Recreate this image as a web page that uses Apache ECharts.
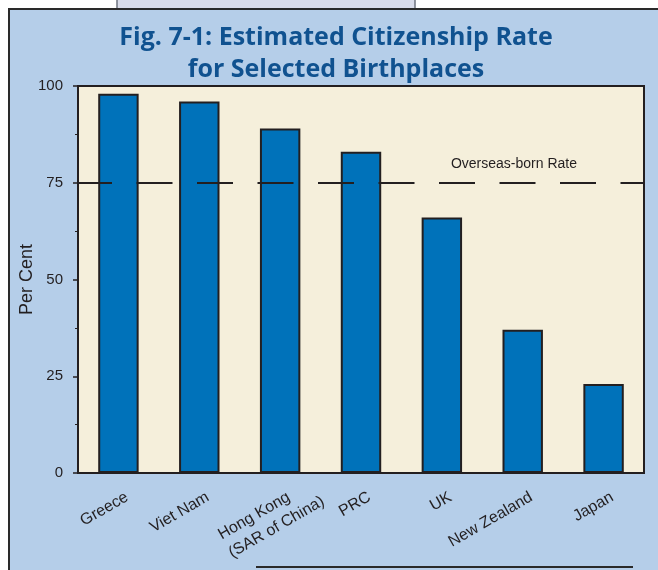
<!DOCTYPE html>
<html><head><meta charset="utf-8">
<script src="https://cdn.jsdelivr.net/npm/echarts@6/dist/echarts.min.js"></script>
<style>html,body{margin:0;padding:0;background:#fff}#c{width:658px;height:570px}</style>
</head><body><div id="c"></div>
<script>
var categories = ['Greece', 'Viet Nam', 'Hong Kong\n(SAR of China)', 'PRC', 'UK', 'New Zealand', 'Japan'];
var rates = [98, 96, 89, 83, 66, 37, 23];
var overseasRate = 75;
var yTicks = [0, 25, 50, 75, 100];

var labelFont = {fontSize: 15, color: '#231f20', fontFamily: 'Liberation Sans'};
var xFont = {fontSize: 16, color: '#231f20', fontFamily: 'Liberation Sans'};
var xData = categories.map(function (c) {
  return c.indexOf('\n') < 0 ? c : {value: c, textStyle: {padding: [21, -10, 0, 0]}};
});
var chart = echarts.init(document.getElementById('c'), null, {renderer: 'canvas'});
chart.setOption({
  backgroundColor: '#ffffff',
  animation: false,
  graphic: [
    {type: 'rect', z: -10, shape: {x: 117, y: -2, width: 298, height: 11}, style: {fill: '#d9dcea', stroke: '#6f7480', lineWidth: 1.5}},
    {type: 'rect', z: -10, shape: {x: 9, y: 9, width: 660, height: 570}, style: {fill: '#b5cee9', stroke: '#2a2a2a', lineWidth: 2}},
    {type: 'line', z: -5, shape: {x1: 256, y1: 567, x2: 633, y2: 567}, style: {stroke: '#2a2a2a', lineWidth: 2}}
  ],
  title: {
    text: 'Fig. 7-1: Estimated Citizenship Rate\nfor Selected Birthplaces',
    left: 331, top: 17, textAlign: 'center',
    textStyle: {fontFamily: 'Open Sans', fontWeight: 'bold', fontSize: 25, color: '#105290', lineHeight: 32}
  },
  grid: {left: 78, right: 14, top: 86, bottom: 97, show: true, backgroundColor: '#f5efdb', borderColor: '#231f20', borderWidth: 2},
  xAxis: {
    type: 'category', data: xData,
    axisLine: {lineStyle: {color: '#231f20', width: 2}},
    axisTick: {show: false},
    axisLabel: Object.assign({
      rotate: 30, margin: 28, interval: 0, lineHeight: 21, padding: [0, -10, 0, 0],
      formatter: function (v) {
        if (v.indexOf('\n') < 0) return v;
        return v.split('\n').map(function (s) { return '{l|' + s + '}'; }).join('\n');
      },
      rich: {l: Object.assign({width: 80, align: 'left', lineHeight: 21}, xFont)}
    }, xFont)
  },
  yAxis: {
    type: 'value', min: 0, max: 100, interval: 25,
    name: 'Per Cent', nameLocation: 'middle', nameGap: 42, nameMoveOverlap: false,
    nameTextStyle: {fontSize: 18, color: '#231f20', fontFamily: 'Liberation Sans'},
    axisLine: {show: true, lineStyle: {color: '#231f20', width: 2}},
    axisTick: {show: true, inside: false, length: 5, lineStyle: {color: '#231f20', width: 1.5}},
    minorTick: {show: true, splitNumber: 2, length: 3, lineStyle: {color: '#231f20', width: 1}},
    splitLine: {show: false},
    axisLabel: Object.assign({margin: 15,
      formatter: function (v) { return yTicks.indexOf(v) >= 0 ? String(v) : ''; }}, labelFont)
  },
  series: [{
    type: 'bar', data: rates, barWidth: '50%',
    itemStyle: {color: '#0072ba', borderColor: '#231f20', borderWidth: 2},
    markLine: {
      silent: true, symbol: 'none',
      data: [{yAxis: overseasRate}],
      lineStyle: {color: '#231f20', width: 2, type: [36, 24.5], dashOffset: 2, opacity: 1},
      label: {show: true, position: 'insideEndTop', formatter: 'Overseas-born Rate', fontSize: 14,
        color: '#231f20', fontFamily: 'Liberation Sans', padding: [0, 62, 7, 0]}
    }
  }]
});
</script></body></html>
